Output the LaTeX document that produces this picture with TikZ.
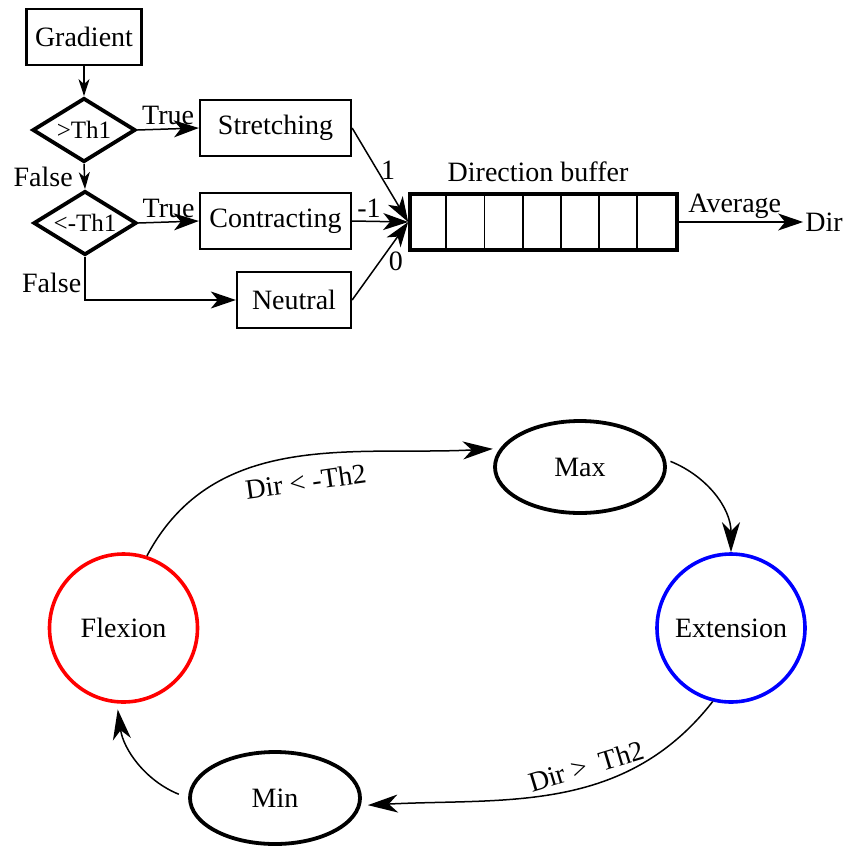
\documentclass[tikz,border=0pt]{standalone}
\usepackage{fontspec}
\setmainfont{Liberation Serif}
\usetikzlibrary{arrows.meta,shapes.geometric}

\begin{document}
\begin{tikzpicture}[
    x=1pt, y=-1pt,
    font=\fontsize{28}{33}\selectfont,
    box/.style={draw=ink, line width=2.3pt, rectangle, inner sep=0pt, minimum height=56pt},
    test/.style={draw=ink, line width=3.8pt, diamond, inner sep=0pt, aspect=1.6,
                 minimum width=103pt, minimum height=64pt, font=\fontsize{25}{30}\selectfont},
    state/.style={draw=ink, line width=3.8pt, ellipse, inner sep=0pt,
                  minimum width=170pt, minimum height=92pt},
    phase/.style={line width=3.6pt, circle, inner sep=0pt, minimum size=148pt},
    cell/.style={draw=ink, line width=1.8pt},
    flow/.style={draw=ink, line width=1.5pt, -{Stealth[length=25pt,width=17pt,inset=7pt]}},
    feed/.style={draw=ink, line width=1.5pt, -{Stealth[length=17pt,width=11pt,inset=5pt]}},
    trans/.style={draw=ink, line width=1.5pt, -{Stealth[length=30pt,width=18pt,inset=9pt]}},
    lab/.style={inner sep=3pt}
]
\definecolor{ink}{HTML}{000000}
\definecolor{flexred}{HTML}{FF0000}
\definecolor{extblue}{HTML}{0000FF}

\def\bufw{267}
\def\ncell{7}

\useasboundingbox (0,0) rectangle (846,846);

% decision chain on the gradient
\node[box, minimum width=115pt] (grad) at (84,37) {Gradient};
\node[test] (gt) at (84,130) {>Th1};
\node[test] (lt) at (85,223) {<-Th1};
\node[box, minimum width=151pt] (stretch) at (275.5,128) {Stretching};
\node[box, minimum width=151pt] (contract) at (275.5,221) {Contracting};
\node[box, minimum width=114pt] (neutral) at (294,300) {Neutral};

\draw[feed] (grad.south) -- (gt.north);
\draw[feed] (gt.south) -- node[lab, left=8pt] (lf1) {False} (lt.north);
\draw[flow] (gt.east) -- node[lab, above] (lt1) {True} (stretch.west);
\draw[flow] (lt.east) -- node[lab, above] (lt2) {True} (contract.west);
\draw[flow] (lt.south) |- node[lab, pos=0.3, left] (lf2) {False} (neutral.west);

% direction buffer, 7 cells
\node[draw=ink, line width=3.6pt, minimum width=\bufw pt, minimum height=56pt,
      inner sep=0pt] (buffer) at (543.5,222) {};
\foreach \i in {1,...,6} {
  \draw[cell] ([xshift=\i*\bufw/\ncell*1pt]buffer.north west)
           -- ([xshift=\i*\bufw/\ncell*1pt]buffer.south west);
}
\node (bufname) at (538,172) {Direction buffer};

\draw[flow] (stretch.east) -- node[lab, pos=0.45, right] (one) {1} (buffer.west);
\draw[flow] (contract.east) -- node[lab, pos=0.3, above] (mone) {-1} (buffer.west);
\draw[flow] (neutral.east) -- node[lab, pos=0.5, right=5pt] (zero) {0} (buffer.west);

\node[inner sep=2pt] (dir) at (824,222) {Dir};
\draw[flow] (buffer.east) -- node[lab, pos=0.45, above] (avg) {Average} (dir.west);

% state machine on Dir
\node[phase, draw=flexred] (flex) at (123.5,628) {Flexion};
\node[phase, draw=extblue] (ext) at (731,628) {Extension};
\node[state] (max) at (580,467) {Max};
\node[state] (min) at (275,798) {Min};

\draw[trans, shorten >=7pt] (flex.72) to[out=62, in=183]
  node[lab, sloped, below=12pt, pos=0.52] (up) {Dir < -Th2} (max.167);
\draw[trans, shorten <=5pt] (max.5) to[out=-22, in=90] (ext.north);
\draw[trans, shorten >=7pt] (ext.256) to[out=232, in=3]
  node[lab, sloped, above=6pt, pos=0.4] (down) {Dir >~~Th2} (min.-5);
\draw[trans, shorten <=10pt, shorten >=6pt] (min.180) to[out=158, in=-82] (flex.265);
\end{tikzpicture}
\end{document}
